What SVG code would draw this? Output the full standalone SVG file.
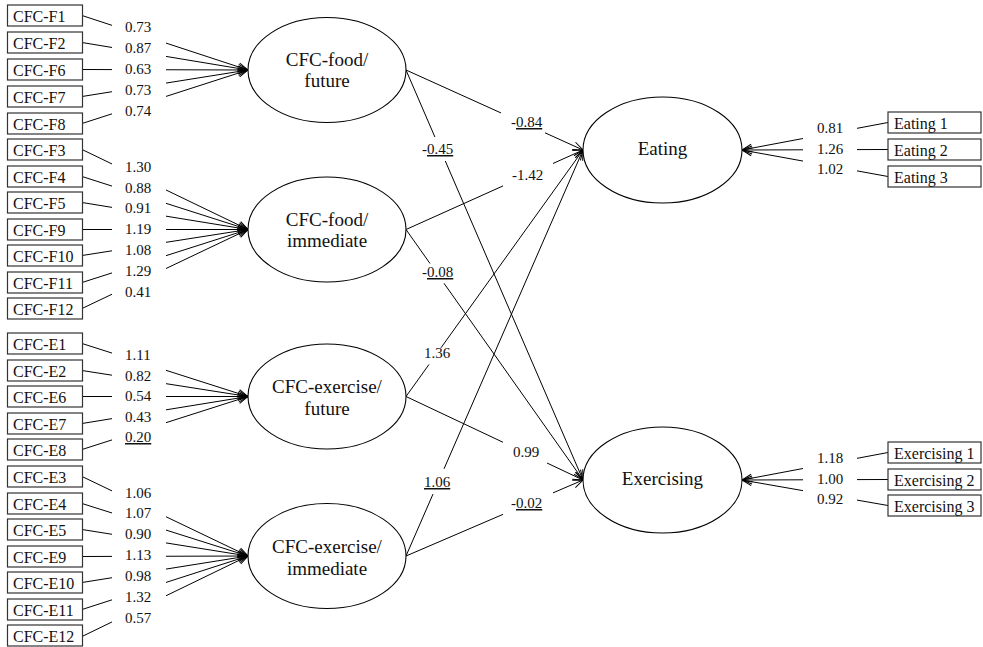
<svg xmlns="http://www.w3.org/2000/svg" width="983" height="647" viewBox="0 0 983 647" font-family="'Liberation Serif', 'Times New Roman', 'DejaVu Serif', serif">
<defs>
<marker id="arr" viewBox="-11 -5 12 10" refX="0" refY="0" markerWidth="12" markerHeight="10" markerUnits="userSpaceOnUse" orient="auto">
<path d="M-10,-4 L0,0 L-10,4" fill="none" stroke="#000" stroke-width="1"/>
</marker>
<style>
text{font-family:'Liberation Serif','Times New Roman','DejaVu Serif',serif;fill:#111}
.box rect{fill:#fff;stroke:#333;stroke-width:1.2}
.box text{font-size:16px}
.lat ellipse{fill:#fff;stroke:#000;stroke-width:1.1}
.lat text{font-size:19px;text-anchor:middle}
.conn line{stroke:#000;stroke-width:1}
.conn line.a{marker-end:url(#arr)}
.lbl text{font-size:15px}
</style>
</defs>
<rect width="983" height="647" fill="#fff"/>

<g id="connectors" class="conn">
<line x1="82" y1="15.5" x2="112" y2="25.35"/><line class="a" x1="166" y1="43.08" x2="248" y2="70"/>
<line x1="82" y1="42.5" x2="112" y2="47.47"/><line class="a" x1="166" y1="56.42" x2="248" y2="70"/>
<line x1="82" y1="69.5" x2="112" y2="69.6"/><line class="a" x1="166" y1="69.75" x2="248" y2="70"/>
<line x1="82" y1="96.5" x2="112" y2="91.71"/><line class="a" x1="166" y1="83.09" x2="248" y2="70"/>
<line x1="82" y1="123.5" x2="112" y2="113.83"/><line class="a" x1="166" y1="96.43" x2="248" y2="70"/>
<line x1="82" y1="149.5" x2="112" y2="163.96"/><line class="a" x1="166" y1="189.98" x2="248" y2="229.5"/>
<line x1="82" y1="176.5" x2="112" y2="186.08"/><line class="a" x1="166" y1="203.32" x2="248" y2="229.5"/>
<line x1="82" y1="202.5" x2="112" y2="207.38"/><line class="a" x1="166" y1="216.16" x2="248" y2="229.5"/>
<line x1="82" y1="229.5" x2="112" y2="229.5"/><line class="a" x1="166" y1="229.5" x2="248" y2="229.5"/>
<line x1="82" y1="255.5" x2="112" y2="250.8"/><line class="a" x1="166" y1="242.34" x2="248" y2="229.5"/>
<line x1="82" y1="282.5" x2="112" y2="272.92"/><line class="a" x1="166" y1="255.68" x2="248" y2="229.5"/>
<line x1="82" y1="308.5" x2="112" y2="294.22"/><line class="a" x1="166" y1="268.52" x2="248" y2="229.5"/>
<line x1="82" y1="343.5" x2="112" y2="353.08"/><line class="a" x1="166" y1="370.32" x2="248" y2="396.5"/>
<line x1="82" y1="370.5" x2="112" y2="375.2"/><line class="a" x1="166" y1="383.66" x2="248" y2="396.5"/>
<line x1="82" y1="396.5" x2="112" y2="396.5"/><line class="a" x1="166" y1="396.5" x2="248" y2="396.5"/>
<line x1="82" y1="423.5" x2="112" y2="418.62"/><line class="a" x1="166" y1="409.84" x2="248" y2="396.5"/>
<line x1="82" y1="449.5" x2="112" y2="439.92"/><line class="a" x1="166" y1="422.68" x2="248" y2="396.5"/>
<line x1="82" y1="476.5" x2="112" y2="490.87"/><line class="a" x1="166" y1="516.73" x2="248" y2="556"/>
<line x1="82" y1="503.5" x2="112" y2="512.99"/><line class="a" x1="166" y1="530.07" x2="248" y2="556"/>
<line x1="82" y1="529.5" x2="112" y2="534.29"/><line class="a" x1="166" y1="542.91" x2="248" y2="556"/>
<line x1="82" y1="556.5" x2="112" y2="556.4"/><line class="a" x1="166" y1="556.25" x2="248" y2="556"/>
<line x1="82" y1="582.5" x2="112" y2="577.71"/><line class="a" x1="166" y1="569.09" x2="248" y2="556"/>
<line x1="82" y1="609.5" x2="112" y2="599.83"/><line class="a" x1="166" y1="582.43" x2="248" y2="556"/>
<line x1="82" y1="636.5" x2="112" y2="621.95"/><line class="a" x1="166" y1="595.77" x2="248" y2="556"/>
<line x1="406" y1="70" x2="501" y2="112.94"/><line class="a" x1="545" y1="132.82" x2="583" y2="150"/>
<line x1="406" y1="70" x2="434.9" y2="137"/><line class="a" x1="445.3" y1="161" x2="583" y2="480"/>
<line x1="406" y1="229.5" x2="503" y2="185.93"/><line class="a" x1="553" y1="163.47" x2="583" y2="150"/>
<line x1="406" y1="229.5" x2="430" y2="263.47"/><line class="a" x1="444" y1="283.28" x2="583" y2="480"/>
<line x1="406" y1="396.5" x2="429" y2="364.47"/><line class="a" x1="441" y1="347.76" x2="583" y2="150"/>
<line x1="406" y1="396.5" x2="503" y2="442.26"/><line class="a" x1="547" y1="463.02" x2="583" y2="480"/>
<line x1="406" y1="556" x2="433" y2="494.07"/><line class="a" x1="444" y1="468.84" x2="583" y2="150"/>
<line x1="406" y1="556" x2="503" y2="514.35"/><line class="a" x1="553" y1="492.88" x2="583" y2="480"/>
<line x1="888" y1="122.5" x2="857" y2="128.34"/><line class="a" x1="803" y1="138.51" x2="742" y2="150"/>
<line x1="888" y1="149.5" x2="857" y2="149.6"/><line class="a" x1="803" y1="149.8" x2="742" y2="150"/>
<line x1="888" y1="176.5" x2="857" y2="170.87"/><line class="a" x1="803" y1="161.07" x2="742" y2="150"/>
<line x1="888" y1="452.5" x2="857" y2="458.34"/><line class="a" x1="803" y1="468.51" x2="742" y2="480"/>
<line x1="888" y1="479.5" x2="857" y2="479.6"/><line class="a" x1="803" y1="479.8" x2="742" y2="480"/>
<line x1="888" y1="505.5" x2="857" y2="500.09"/><line class="a" x1="803" y1="490.65" x2="742" y2="480"/>
</g>

<g id="labels" class="lbl">
<text x="125" y="32">0.73</text><text x="125" y="53">0.87</text><text x="125" y="74">0.63</text><text x="125" y="95">0.73</text><text x="125" y="116">0.74</text>
<text x="125" y="172">1.30</text><text x="125" y="193">0.88</text><text x="125" y="213">0.91</text><text x="125" y="234">1.19</text><text x="125" y="255">1.08</text><text x="125" y="276">1.29</text><text x="125" y="297">0.41</text>
<text x="125" y="360">1.11</text><text x="125" y="381">0.82</text><text x="125" y="401">0.54</text><text x="125" y="422">0.43</text><text x="125" y="442"><tspan text-decoration="underline">0.20</tspan></text>
<text x="125" y="498">1.06</text><text x="125" y="518">1.07</text><text x="125" y="539">0.90</text><text x="125" y="560">1.13</text><text x="125" y="581">0.98</text><text x="125" y="602">1.32</text><text x="125" y="623">0.57</text>
<text x="511" y="127">-<tspan text-decoration="underline">0.84</tspan></text>
<text x="422" y="154">-<tspan text-decoration="underline">0.45</tspan></text>
<text x="512" y="180">-1.42</text>
<text x="422" y="277">-<tspan text-decoration="underline">0.08</tspan></text>
<text x="424" y="358">1.36</text>
<text x="513" y="457">0.99</text>
<text x="424" y="487"><tspan text-decoration="underline">1.06</tspan></text>
<text x="511" y="508">-<tspan text-decoration="underline">0.02</tspan></text>
<text x="817" y="133">0.81</text><text x="817" y="154">1.26</text><text x="817" y="174">1.02</text>
<text x="817" y="463">1.18</text><text x="817" y="484">1.00</text><text x="817" y="504">0.92</text>
</g>

<g id="lat-food-future" class="lat"><ellipse cx="327" cy="70" rx="79" ry="52.5"/><text x="327" y="66">CFC-food/</text><text x="327" y="87">future</text></g>
<g id="lat-food-immediate" class="lat"><ellipse cx="327" cy="229.5" rx="79" ry="52.5"/><text x="327" y="225.5">CFC-food/</text><text x="327" y="246.5">immediate</text></g>
<g id="lat-exercise-future" class="lat"><ellipse cx="327" cy="396.5" rx="79" ry="52.5"/><text x="327" y="393">CFC-exercise/</text><text x="327" y="415">future</text></g>
<g id="lat-exercise-immediate" class="lat"><ellipse cx="327" cy="556" rx="79" ry="52.5"/><text x="327" y="552.5">CFC-exercise/</text><text x="327" y="574.5">immediate</text></g>
<g id="lat-eating" class="lat"><ellipse cx="662.5" cy="150" rx="79.5" ry="53"/><text x="662.5" y="155">Eating</text></g>
<g id="lat-exercising" class="lat"><ellipse cx="662.5" cy="480" rx="79.5" ry="53"/><text x="662.5" y="485">Exercising</text></g>

<g id="box-F1" class="box"><rect x="7.5" y="5" width="75" height="21"/><text x="13" y="21.5">CFC-F1</text></g>
<g id="box-F2" class="box"><rect x="7.5" y="32" width="75" height="21"/><text x="13" y="48.5">CFC-F2</text></g>
<g id="box-F6" class="box"><rect x="7.5" y="59" width="75" height="21"/><text x="13" y="75.5">CFC-F6</text></g>
<g id="box-F7" class="box"><rect x="7.5" y="86" width="75" height="21"/><text x="13" y="102.5">CFC-F7</text></g>
<g id="box-F8" class="box"><rect x="7.5" y="113" width="75" height="21"/><text x="13" y="129.5">CFC-F8</text></g>
<g id="box-F3" class="box"><rect x="7.5" y="139" width="75" height="21"/><text x="13" y="155.5">CFC-F3</text></g>
<g id="box-F4" class="box"><rect x="7.5" y="166" width="75" height="21"/><text x="13" y="182.5">CFC-F4</text></g>
<g id="box-F5" class="box"><rect x="7.5" y="192" width="75" height="21"/><text x="13" y="208.5">CFC-F5</text></g>
<g id="box-F9" class="box"><rect x="7.5" y="219" width="75" height="21"/><text x="13" y="235.5">CFC-F9</text></g>
<g id="box-F10" class="box"><rect x="7.5" y="245" width="75" height="21"/><text x="13" y="261.5">CFC-F10</text></g>
<g id="box-F11" class="box"><rect x="7.5" y="272" width="75" height="21"/><text x="13" y="288.5">CFC-F11</text></g>
<g id="box-F12" class="box"><rect x="7.5" y="298" width="75" height="21"/><text x="13" y="314.5">CFC-F12</text></g>
<g id="box-E1" class="box"><rect x="7.5" y="333" width="75" height="21"/><text x="13" y="349.5">CFC-E1</text></g>
<g id="box-E2" class="box"><rect x="7.5" y="360" width="75" height="21"/><text x="13" y="376.5">CFC-E2</text></g>
<g id="box-E6" class="box"><rect x="7.5" y="386" width="75" height="21"/><text x="13" y="402.5">CFC-E6</text></g>
<g id="box-E7" class="box"><rect x="7.5" y="413" width="75" height="21"/><text x="13" y="429.5">CFC-E7</text></g>
<g id="box-E8" class="box"><rect x="7.5" y="439" width="75" height="21"/><text x="13" y="455.5">CFC-E8</text></g>
<g id="box-E3" class="box"><rect x="7.5" y="466" width="75" height="21"/><text x="13" y="482.5">CFC-E3</text></g>
<g id="box-E4" class="box"><rect x="7.5" y="493" width="75" height="21"/><text x="13" y="509.5">CFC-E4</text></g>
<g id="box-E5" class="box"><rect x="7.5" y="519" width="75" height="21"/><text x="13" y="535.5">CFC-E5</text></g>
<g id="box-E9" class="box"><rect x="7.5" y="546" width="75" height="21"/><text x="13" y="562.5">CFC-E9</text></g>
<g id="box-E10" class="box"><rect x="7.5" y="572" width="75" height="21"/><text x="13" y="588.5">CFC-E10</text></g>
<g id="box-E11" class="box"><rect x="7.5" y="599" width="75" height="21"/><text x="13" y="615.5">CFC-E11</text></g>
<g id="box-E12" class="box"><rect x="7.5" y="625" width="75" height="21"/><text x="13" y="641.5">CFC-E12</text></g>
<g id="box-Eating1" class="box"><rect x="888" y="112" width="93" height="21"/><text x="894" y="128.5">Eating 1</text></g>
<g id="box-Eating2" class="box"><rect x="888" y="139" width="93" height="21"/><text x="894" y="155.5">Eating 2</text></g>
<g id="box-Eating3" class="box"><rect x="888" y="166" width="93" height="21"/><text x="894" y="182.5">Eating 3</text></g>
<g id="box-Exercising1" class="box"><rect x="888" y="442" width="93" height="21"/><text x="894" y="458.5">Exercising 1</text></g>
<g id="box-Exercising2" class="box"><rect x="888" y="469" width="93" height="21"/><text x="894" y="485.5">Exercising 2</text></g>
<g id="box-Exercising3" class="box"><rect x="888" y="495" width="93" height="21"/><text x="894" y="511.5">Exercising 3</text></g>
</svg>
